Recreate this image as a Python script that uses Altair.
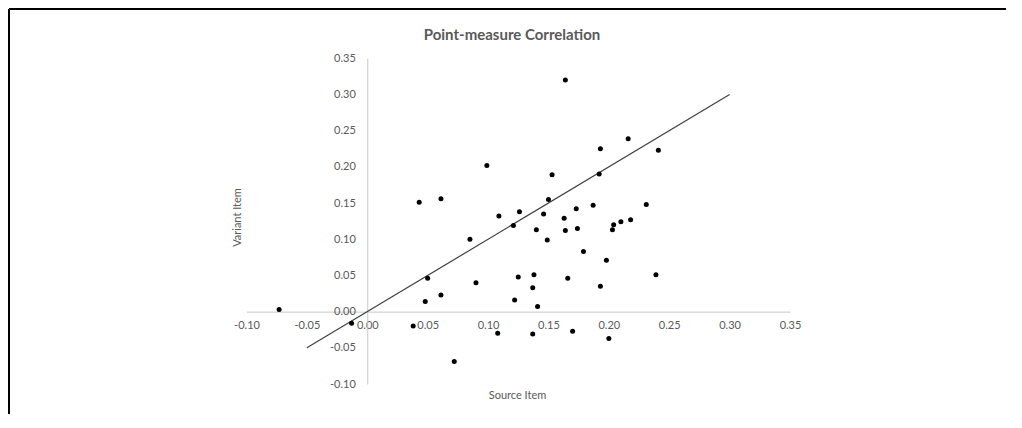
import altair as alt
import pandas as pd

# Source item (x) and Variant item (y) point-measure correlations
source_item = [-0.073, -0.013, 0.038, 0.043, 0.048, 0.050, 0.061, 0.061, 0.072, 0.085,
               0.090, 0.099, 0.108, 0.109, 0.121, 0.122, 0.125, 0.126, 0.137, 0.137,
               0.138, 0.140, 0.141, 0.146, 0.149, 0.150, 0.153, 0.163, 0.164, 0.164,
               0.166, 0.170, 0.173, 0.174, 0.179, 0.187, 0.192, 0.193, 0.193, 0.198,
               0.200, 0.203, 0.204, 0.210, 0.216, 0.218, 0.231, 0.239, 0.241]
variant_item = [0.003, -0.016, -0.020, 0.151, 0.014, 0.046, 0.156, 0.023, -0.069, 0.100,
                0.040, 0.202, -0.030, 0.132, 0.119, 0.016, 0.048, 0.138, 0.033, -0.031,
                0.051, 0.113, 0.007, 0.135, 0.099, 0.155, 0.189, 0.129, 0.320, 0.112,
                0.046, -0.027, 0.142, 0.115, 0.083, 0.147, 0.190, 0.225, 0.035, 0.071,
                -0.037, 0.113, 0.120, 0.124, 0.239, 0.127, 0.148, 0.051, 0.223]

# Reference line endpoints
line_x = [-0.05, 0.30]
line_y = [-0.05, 0.30]

x_ticks = [-0.10, -0.05, 0.00, 0.05, 0.10, 0.15, 0.20, 0.25, 0.30, 0.35]
y_ticks = [-0.10, -0.05, 0.00, 0.05, 0.10, 0.15, 0.20, 0.25, 0.30, 0.35]

title_text = "Point-measure Correlation"
x_title = "Source Item"
y_title = "Variant Item"

FONT = "Lato"
TXT = "#595959"
AX = "#c8c8c8"

W, H = 543.5, 325.7
L, T = 246.5, 58.3
x_off = -(H * 0.10 / 0.45)
y_off = -(W * 0.10 / 0.45)

pts = pd.DataFrame({"x": source_item, "y": variant_item})
ln = pd.DataFrame({"x": line_x, "y": line_y})

lab_expr = "replace(format(datum.value, '.2f'), '\u2212', '-')"

xs = alt.Scale(domain=[-0.10, 0.35], nice=False, zero=False)
ys = alt.Scale(domain=[-0.10, 0.35], nice=False, zero=False)


def x_axis():
    return alt.Axis(values=x_ticks, labelExpr=lab_expr, offset=x_off, ticks=False, tickSize=0,
                    grid=False, domainColor=AX, domainWidth=1, labelFont=FONT, labelFontSize=11,
                    labelColor=TXT, labelPadding=8, labelOverlap=False, labelFlush=False,
                    labelBound=False, title=None)


def y_axis():
    return alt.Axis(values=y_ticks, labelExpr=lab_expr, offset=y_off, ticks=False, tickSize=0,
                    grid=False, domainColor=AX, domainWidth=1, labelFont=FONT, labelFontSize=11,
                    labelColor=TXT, labelPadding=12, labelOverlap=False, labelFlush=False,
                    labelBound=False, title=None)


trend = alt.Chart(ln).mark_line(color="#404040", strokeWidth=1.2).encode(
    x=alt.X("x:Q", scale=xs, axis=x_axis()),
    y=alt.Y("y:Q", scale=ys, axis=y_axis()),
)

points = alt.Chart(pts).mark_circle(size=25, color="black", opacity=1).encode(
    x=alt.X("x:Q", scale=xs, axis=x_axis()),
    y=alt.Y("y:Q", scale=ys, axis=y_axis()),
)

one = pd.DataFrame({"a": [0]})

ttl = alt.Chart(one).mark_text(text=title_text, font=FONT, fontSize=15, fontWeight="bold",
                               color=TXT, align="center", baseline="alphabetic").encode(
    x=alt.value(512 - L), y=alt.value(39.5 - T))
xt = alt.Chart(one).mark_text(text=x_title, font=FONT, fontSize=11, color=TXT,
                              align="center", baseline="middle").encode(
    x=alt.value(517.5 - L), y=alt.value(395.7 - T))
yt = alt.Chart(one).mark_text(text=y_title, font=FONT, fontSize=11, color=TXT, angle=270,
                              align="center", baseline="middle").encode(
    x=alt.value(238.3 - L), y=alt.value(217.5 - T))

border_top = alt.Chart(one).mark_rule(color="black", strokeWidth=2).encode(
    x=alt.value(9 - L), x2=alt.value(1014 - L), y=alt.value(9 - T))
border_left = alt.Chart(one).mark_rule(color="black", strokeWidth=2).encode(
    x=alt.value(9 - L), y=alt.value(9 - T), y2=alt.value(420 - T))

chart = alt.layer(trend, points, ttl, xt, yt, border_top, border_left).properties(
    width=W, height=H,
    autosize=alt.AutoSizeParams(type="none"),
    padding={"left": L - 8, "top": T - 8, "right": 216, "bottom": 30},
).configure_view(stroke=None)

chart.save("out.html", embed_options={"renderer": "svg", "actions": False})
